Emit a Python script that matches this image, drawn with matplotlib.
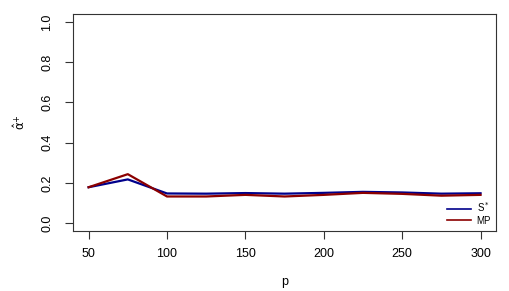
import matplotlib.pyplot as plt

plt.rcParams['font.family'] = ['Liberation Sans', 'DejaVu Sans']
plt.rcParams['mathtext.fontset'] = 'dejavusans'

p = [50, 75, 100, 125, 150, 175, 200, 225, 250, 275, 300]
s_star = [0.178, 0.217, 0.147, 0.146, 0.149, 0.146, 0.150, 0.155, 0.152, 0.146, 0.148]
mp = [0.178, 0.243, 0.132, 0.132, 0.140, 0.132, 0.140, 0.150, 0.145, 0.136, 0.140]

fig = plt.figure(figsize=(5.1, 2.91), dpi=100)
ax = fig.add_axes([0.143, 0.206, 0.830, 0.746])

ax.plot(p, s_star, color='#00008B', lw=1.6, label=r'S$^*$')
ax.plot(p, mp, color='#8B0000', lw=1.6, label='MP')

ax.set_xlim(40, 310)
ax.set_ylim(-0.04, 1.04)
ax.set_xticks([50, 100, 150, 200, 250, 300])
ax.set_yticks([0.0, 0.2, 0.4, 0.6, 0.8, 1.0])
ax.set_yticklabels(['0.0', '0.2', '0.4', '0.6', '0.8', '1.0'], rotation=90, va='center')
ax.tick_params(direction='out', length=6, labelsize=9, color='#333333')
ax.tick_params(axis='x', pad=6)
ax.tick_params(axis='y', pad=8)
for s in ax.spines.values():
    s.set_color('#333333')
    s.set_linewidth(0.8)

ax.set_xlabel('p', fontsize=9, labelpad=12)
ax.set_ylabel(r'$\hat{\mathrm{\alpha}}^{+}$', fontsize=8.5, labelpad=10)

ax.legend(loc='lower right', frameon=False, fontsize=7, handlelength=2.4,
          borderaxespad=0.15, labelspacing=0.15, handletextpad=0.6)
for ln in ax.get_legend().get_lines():
    ln.set_linewidth(1.2)

fig.savefig('out.png', dpi=100)
